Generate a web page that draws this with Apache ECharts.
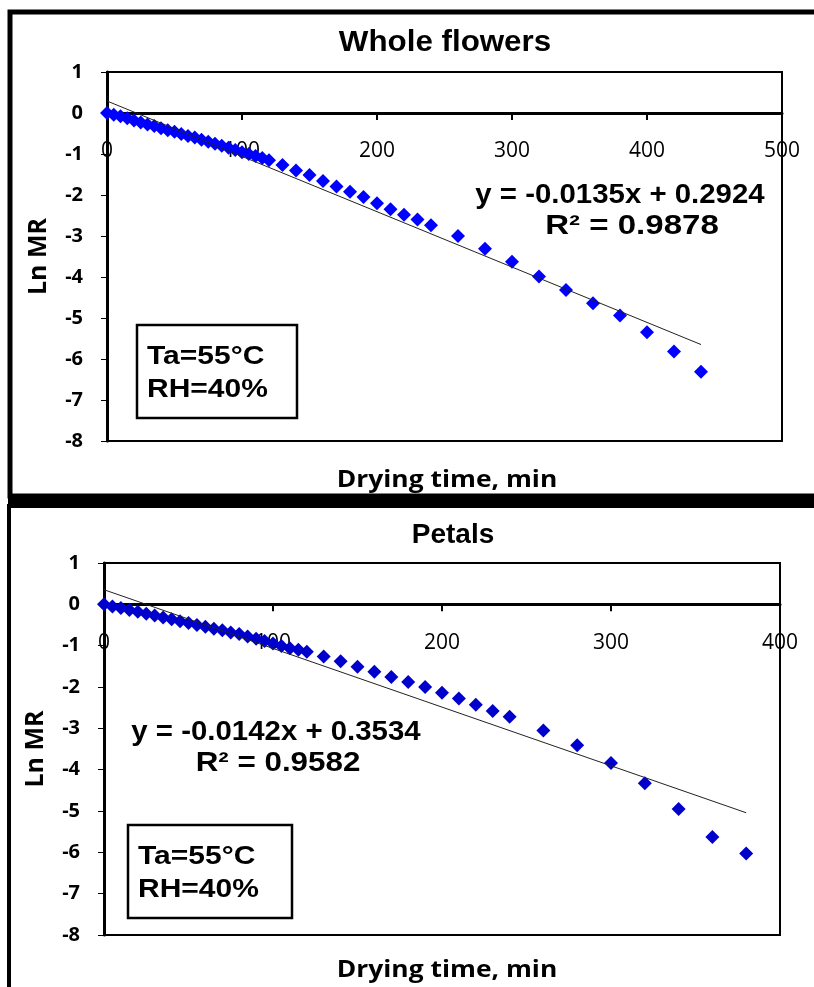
<!DOCTYPE html>
<html>
<head>
<meta charset="utf-8">
<script src="https://cdn.jsdelivr.net/npm/echarts@6/dist/echarts.min.js"></script>
<style>
html,body{margin:0;padding:0;background:#fff;}
#c{width:814px;height:987px;}
</style>
</head>
<body>
<div id="c"></div>
<script>
// ---------- data ----------
const topTimes = [0,5,10,15,20,25,30,35,40,45,50,55,60,65,70,75,80,85,90,95,100,105,110,115,120,
  130,140,150,160,170,180,190,200,210,220,230,240,260,280,300,320,340,360,380,400,420,440];
const topLnMR = [0,-0.04,-0.08,-0.13,-0.18,-0.23,-0.28,-0.32,-0.37,-0.42,-0.46,-0.51,-0.56,-0.60,-0.65,-0.70,-0.75,-0.80,-0.85,-0.90,-0.96,-1.00,-1.05,-1.10,-1.15,
  -1.27,-1.40,-1.51,-1.66,-1.79,-1.92,-2.05,-2.20,-2.35,-2.48,-2.60,-2.74,-3.00,-3.31,-3.63,-3.99,-4.32,-4.64,-4.94,-5.35,-5.82,-6.31];
const topTrend = [[0, 0.2924], [440, -5.6476]];

const botTimes = [0,5,10,15,20,25,30,35,40,45,50,55,60,65,70,75,80,85,90,95,100,105,110,115,120,
  130,140,150,160,170,180,190,200,210,220,230,240,260,280,300,320,340,360,380];
const botLnMR = [0,-0.05,-0.09,-0.14,-0.18,-0.23,-0.27,-0.32,-0.36,-0.41,-0.45,-0.50,-0.54,-0.59,-0.63,-0.68,-0.72,-0.78,-0.83,-0.89,-0.95,-1.01,-1.06,-1.10,-1.15,
  -1.26,-1.38,-1.51,-1.63,-1.76,-1.88,-2.00,-2.14,-2.28,-2.43,-2.58,-2.72,-3.05,-3.41,-3.84,-4.33,-4.95,-5.63,-6.03];
const botTrend = [[0, 0.3534], [380, -5.0426]];

const titles = ['Whole flowers', 'Petals'];
const eqTop = ['y = -0.0135x + 0.2924', 'R² = 0.9878'];
const eqBot = ['y = -0.0142x + 0.3534', 'R² = 0.9582'];
const condText = ['Ta=55°C', 'RH=40%'];
const yName = 'Ln MR';
const xName = 'Drying time, min';

// ---------- chart ----------
const chart = echarts.init(document.getElementById('c'));

function pairs(xs, ys){ return xs.map((x,i)=>[x, ys[i]]); }

// x axis drawn along the y = 0 line (top-positioned axis shifted down into the plot)
function xAxisDef(gi, max, off){
  return {
    type:'value', gridIndex:gi, min:0, max:max, interval:100,
    position:'top', offset:off,
    axisLine:{show:true, onZero:false, lineStyle:{color:'#000', width:3}},
    axisTick:{show:true, inside:true, length:7, lineStyle:{color:'#000', width:2}},
    axisLabel:{inside:true, color:'#000', fontSize:21, fontFamily:'Open Sans', margin:28},
    splitLine:{show:false}
  };
}
function yAxisDef(gi){
  return {
    type:'value', gridIndex:gi, min:-8, max:1, interval:1,
    name:yName, nameLocation:'middle', nameGap:56, nameRotate:90,
    nameTextStyle:{color:'#000', fontSize:25, fontWeight:'bold', fontFamily:'Open Sans'},
    axisLine:{show:true, onZero:false, lineStyle:{color:'#000', width:3}},
    axisTick:{show:true, length:6, lineStyle:{color:'#000', width:1}},
    axisLabel:{color:'#000', fontSize:20, fontWeight:'bold', fontFamily:'Open Sans', margin:24},
    splitLine:{show:false}
  };
}

function txt(x, y, s, size, sx, align){
  return {type:'text', x:x, y:y, scaleX:sx||1, z:11,
    style:{text:s, fill:'#000', font:'bold '+size+'px "Liberation Sans", Arial',
           textAlign:align||'center', textVerticalAlign:'middle'}};
}

chart.setOption({
  animation:false,
  backgroundColor:'#fff',
  grid:[
    {left:107, top:72, width:675, height:369, show:true, borderColor:'#000', borderWidth:2, backgroundColor:'transparent'},
    {left:104, top:563, width:676, height:372, show:true, borderColor:'#000', borderWidth:2, backgroundColor:'transparent'}
  ],
  xAxis:[xAxisDef(0,500,-41), xAxisDef(1,400,-41.3)],
  yAxis:[yAxisDef(0), yAxisDef(1)],
  series:[
    {type:'scatter', xAxisIndex:0, yAxisIndex:0, symbol:'diamond', symbolSize:14,
     itemStyle:{color:'#0000FF', opacity:1}, data:pairs(topTimes, topLnMR), z:3},
    {type:'line', xAxisIndex:0, yAxisIndex:0, data:topTrend, symbol:'none',
     lineStyle:{color:'#222', width:1}, z:4, silent:true},
    {type:'scatter', xAxisIndex:1, yAxisIndex:1, symbol:'diamond', symbolSize:14,
     itemStyle:{color:'#0000CC', opacity:1}, data:pairs(botTimes, botLnMR), z:3},
    {type:'line', xAxisIndex:1, yAxisIndex:1, data:botTrend, symbol:'none',
     lineStyle:{color:'#222', width:1}, z:4, silent:true}
  ],
  graphic:[
    // outer frames
    {type:'rect', shape:{x:10, y:12, width:840, height:484}, style:{fill:'none', stroke:'#000', lineWidth:5}, z:10},
    {type:'rect', shape:{x:9, y:506, width:840, height:600}, style:{fill:'none', stroke:'#000', lineWidth:4}, z:10},
    {type:'rect', shape:{x:8, y:497, width:820, height:10}, style:{fill:'#000'}, z:10},
    // titles
    txt(445, 43, titles[0], 29, 1.08),
    txt(453, 535, titles[1], 28, 1),
    // x axis names
    {type:'text', x:447, y:480, scaleX:1.1, z:11, style:{text:xName, fill:'#000', font:'bold 24px "Open Sans"', textAlign:'center', textVerticalAlign:'middle'}},
    {type:'text', x:447, y:970, scaleX:1.1, z:11, style:{text:xName, fill:'#000', font:'bold 24px "Open Sans"', textAlign:'center', textVerticalAlign:'middle'}},
    // equations
    txt(620, 195, eqTop[0], 28, 1.05),
    txt(632, 226, eqTop[1], 28, 1.18),
    txt(276, 732, eqBot[0], 28, 1.05),
    txt(278, 763, eqBot[1], 28, 1.12),
    // condition boxes
    {type:'rect', shape:{x:137, y:325, width:160, height:93}, style:{fill:'#fff', stroke:'#000', lineWidth:2.5}, z:10},
    txt(147, 357, condText[0], 25, 1.2, 'left'),
    txt(147, 390, condText[1], 25, 1.2, 'left'),
    {type:'rect', shape:{x:128, y:825, width:164, height:93}, style:{fill:'#fff', stroke:'#000', lineWidth:2.5}, z:10},
    txt(138, 857, condText[0], 25, 1.2, 'left'),
    txt(138, 890, condText[1], 25, 1.2, 'left')
  ]
});
</script>
</body>
</html>
